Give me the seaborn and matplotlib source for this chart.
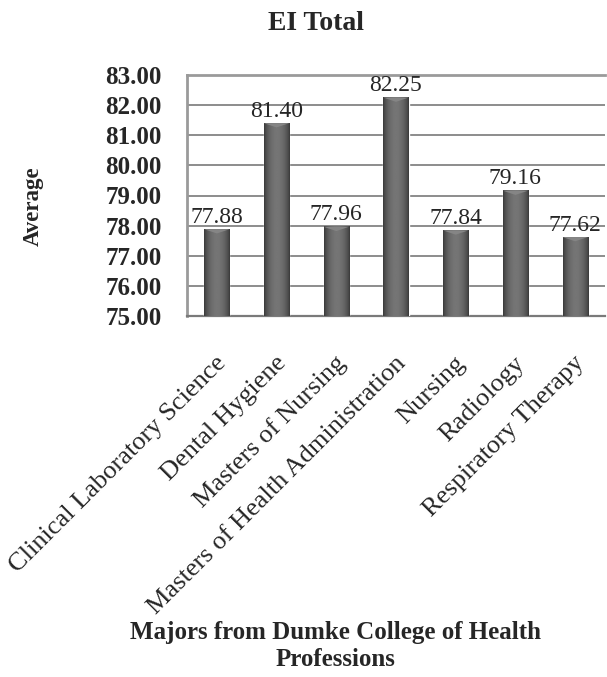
import numpy as np
import pandas as pd
import matplotlib
matplotlib.use("Agg")
import matplotlib.pyplot as plt
import matplotlib.transforms as mtransforms
import seaborn as sns

majors = ["Clinical Laboratory Science", "Dental Hygiene", "Masters of Nursing",
          "Masters of Health Administration", "Nursing", "Radiology", "Respiratory Therapy"]
averages = [77.88, 81.40, 77.96, 82.25, 77.84, 79.16, 77.62]
y_ticks = [75, 76, 77, 78, 79, 80, 81, 82, 83]

sns.set_theme(style="white")
plt.rcParams['font.family'] = ['Liberation Serif', 'DejaVu Serif']

df = pd.DataFrame({"Major": majors, "Average": averages})

W, H = 607, 677
fig = plt.figure(figsize=(W / 100, H / 100), dpi=100)
ax = fig.add_axes([187 / W, 1 - 316 / H, (605 - 187) / W, (316 - 75) / H])

sns.barplot(data=df, x="Major", y="Average", color="#505050", width=0.42,
            ax=ax, saturation=1, zorder=3)

ax.set_ylim(75, 83)
ax.set_yticks(y_ticks)
ax.set_yticklabels([f"{v:.2f}" for v in y_ticks], fontsize=18, fontweight="bold")
ax.yaxis.grid(True, color="#8c8c8c", linewidth=1.4, zorder=0)
ax.set_axisbelow(True)
for s in ["left", "top"]:
    ax.spines[s].set_visible(True)
    ax.spines[s].set_color("#9a9a9a")
    ax.spines[s].set_linewidth(2.0)
ax.spines["bottom"].set_visible(True)
ax.spines["bottom"].set_color("#7a7a7a")
ax.spines["bottom"].set_linewidth(1.6)
ax.spines["right"].set_visible(False)
ax.tick_params(axis="y", length=0, pad=18)
ax.tick_params(axis="x", length=0, pad=0)

# cylinder-like shading
grad = np.linspace(0, 1, 64)
shade = 0.22 + 0.24 * np.sin(np.pi * grad) ** 0.7
img = np.tile(shade, (2, 1))
cmap = plt.get_cmap("gray")
for p in list(ax.patches):
    x0, w = p.get_x(), p.get_width()
    top = p.get_y() + p.get_height()
    ax.imshow(img, cmap=cmap, vmin=0, vmax=1, aspect="auto",
              extent=[x0, x0 + w, 75, top], zorder=3.5, interpolation="bilinear")
    ax.fill([x0, x0 + w, x0 + w / 2], [top, top, top - 0.14], color="#858585",
            zorder=4, linewidth=0)
    ax.text(x0 + w / 2, top + 0.05, f"{top:.2f}", ha="center", va="bottom",
            fontsize=17, zorder=5)

ax.set_xlim(-0.5, len(majors) - 0.5)
ax.set_ylim(75, 83)
ax.set_xticks(range(len(majors)))
ax.set_xticklabels(majors, rotation=45, ha="right", va="center",
                   rotation_mode="anchor", fontsize=19)
offset = mtransforms.ScaledTranslation(6 / 100, -44 / 100, fig.dpi_scale_trans)
for lab in ax.get_xticklabels():
    lab.set_transform(lab.get_transform() + offset)

ax.set_xlabel("")
ax.set_ylabel("Average", fontsize=16.5, fontweight="bold")
ax.yaxis.set_label_coords((44 - 187) / (605 - 187), (316 - 206) / (316 - 75))

fig.text(316 / W, 1 - 23 / H, "EI Total", ha="center", va="center",
         fontsize=20, fontweight="bold")
fig.text(335 / W, 1 - 646 / H, "Majors from Dumke College of Health\nProfessions",
         ha="center", va="center", fontsize=18, fontweight="bold", linespacing=1.25)

fig.savefig("out.png", dpi=100)
